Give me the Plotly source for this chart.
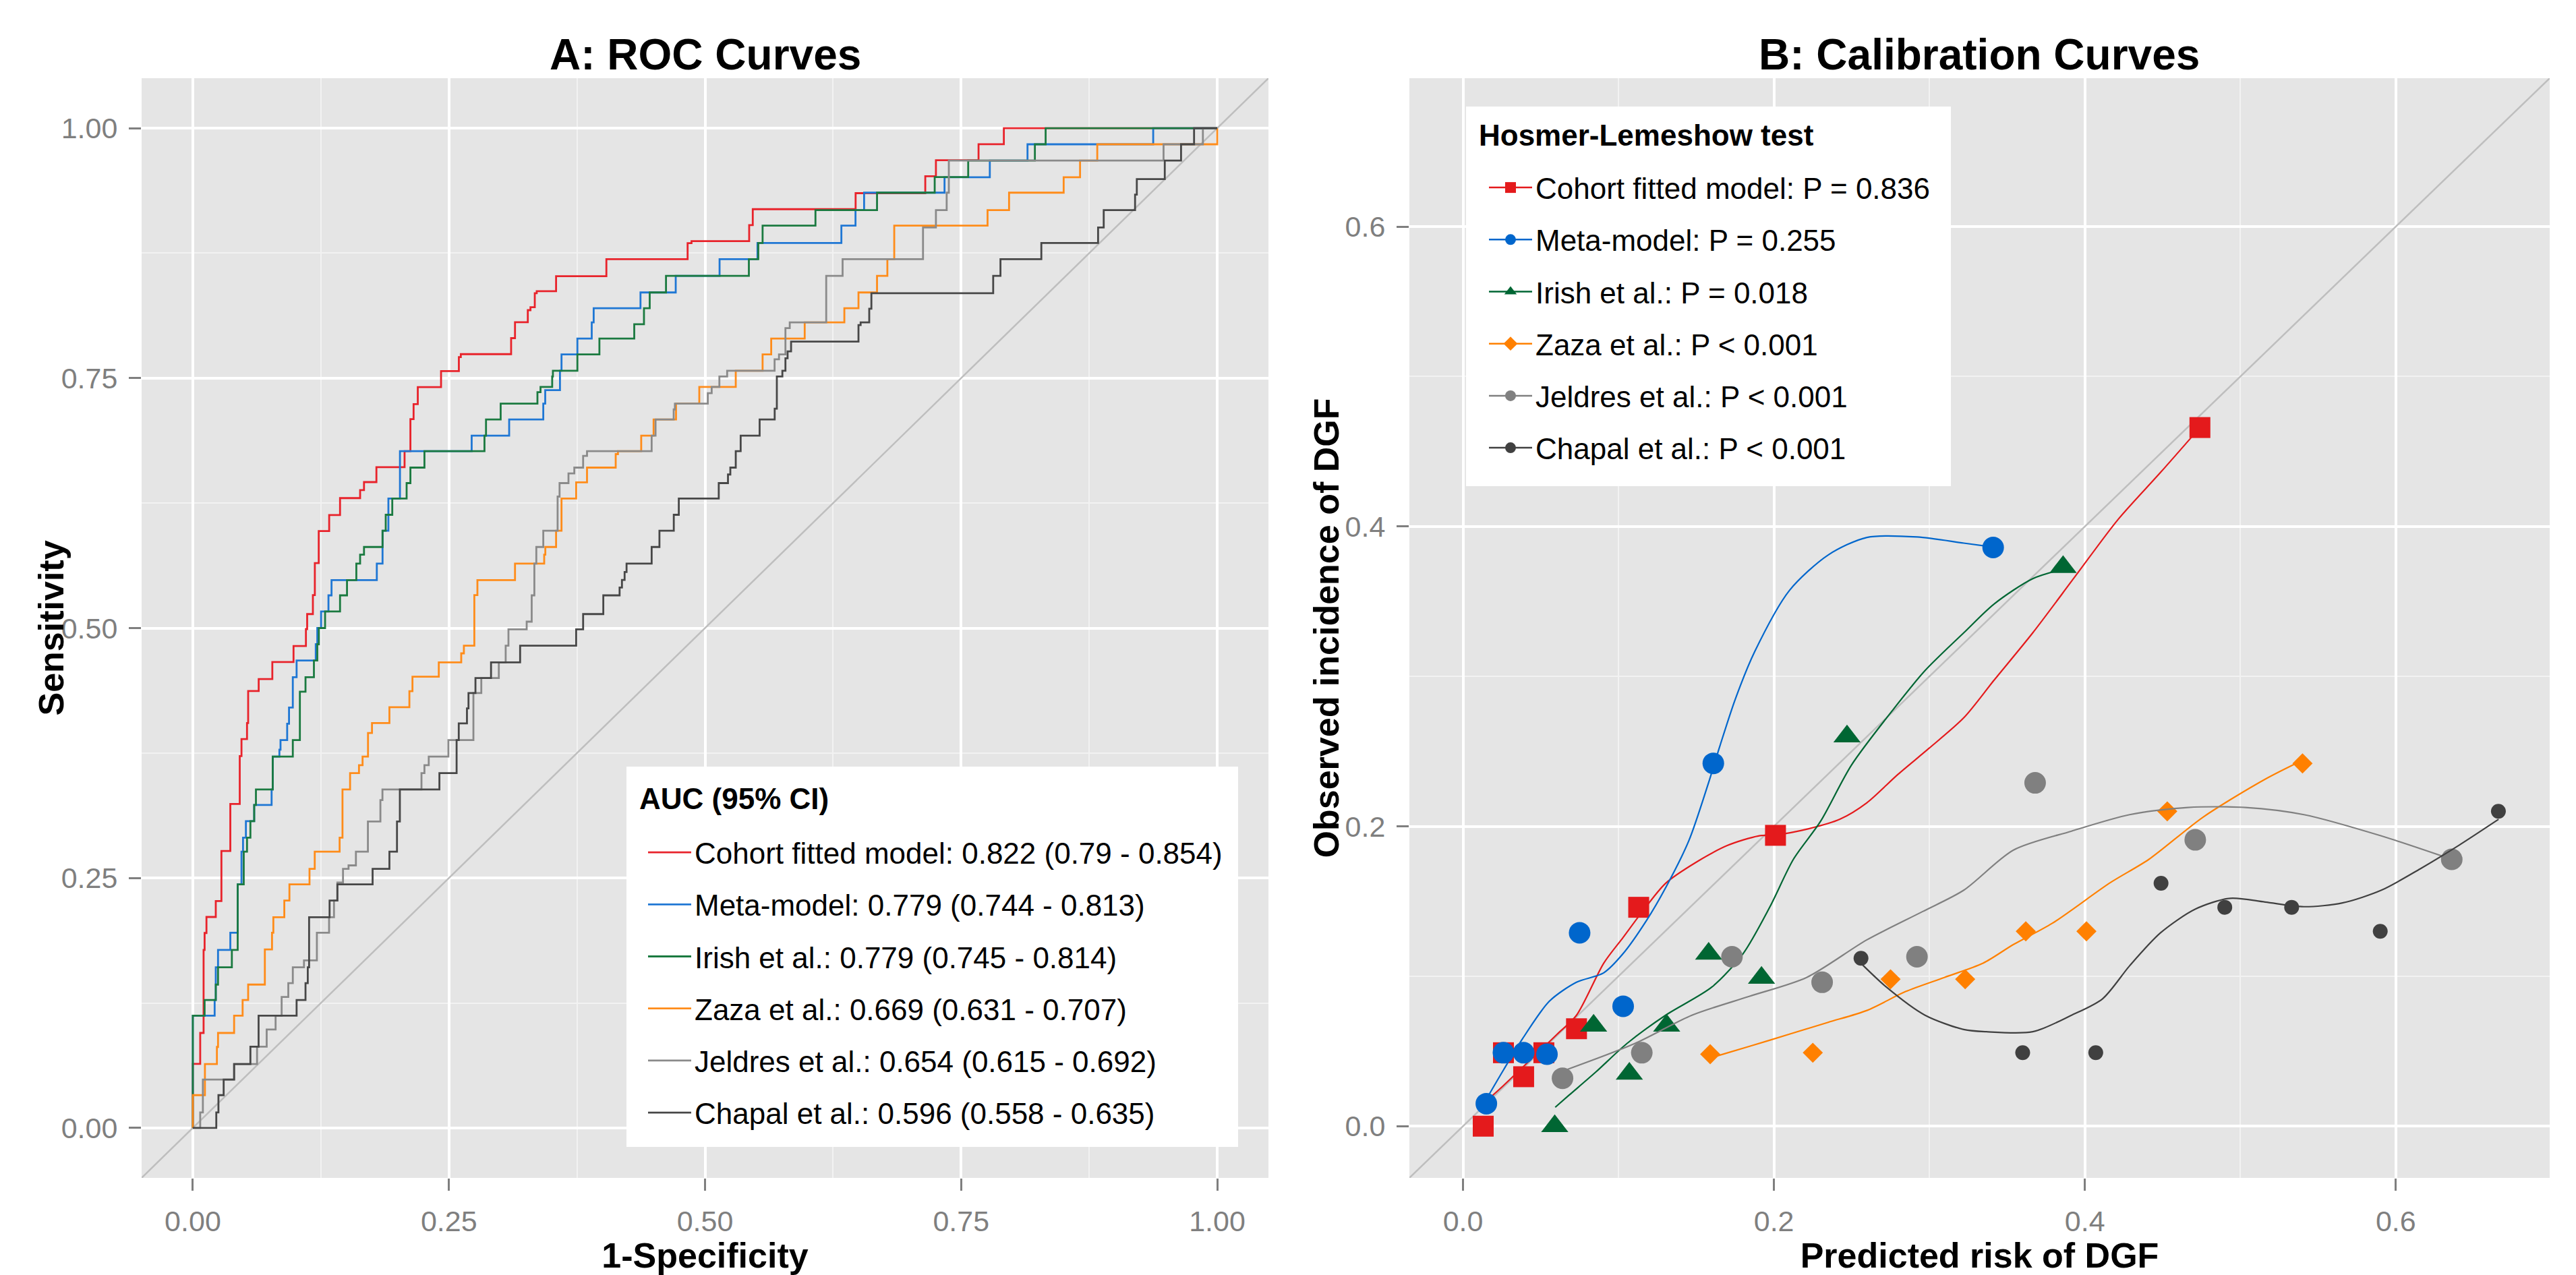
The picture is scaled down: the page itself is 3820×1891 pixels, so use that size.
import plotly.graph_objects as go

FONT = "Liberation Sans, Arial, Helvetica, sans-serif"

# ---------------- names / labels ----------------
model_names = ["Cohort fitted model", "Meta-model", "Irish et al.",
               "Zaza et al.", "Jeldres et al.", "Chapal et al."]
auc_text = ["0.822 (0.79 - 0.854)", "0.779 (0.744 - 0.813)", "0.779 (0.745 - 0.814)",
            "0.669 (0.631 - 0.707)", "0.654 (0.615 - 0.692)", "0.596 (0.558 - 0.635)"]
hl_text = ["P = 0.836", "P = 0.255", "P = 0.018", "P < 0.001", "P < 0.001", "P < 0.001"]

roc_colors = ["#E8232B", "#1F77D4", "#1B7A40", "#FF8C1A", "#8A8A8A", "#474747"]
cal_colors = ["#E41A1C", "#0066CC", "#006633", "#FF8000", "#808080", "#404040"]
cal_symbols = ["square", "circle", "triangle-up", "diamond", "circle", "circle"]
cal_sizes = [31, 32, 35, 23, 32, 22]

# ---------------- ROC curves: (1-specificity, sensitivity) step corners ----------------
roc_cohort = [(0, 0), (0, 0.064), (0.0072, 0.095), (0.0105, 0.178), (0.0115, 0.195), (0.0133, 0.211),
              (0.0224, 0.227), (0.0279, 0.277), (0.0366, 0.324), (0.0458, 0.372), (0.0475, 0.389),
              (0.0529, 0.405), (0.054, 0.437), (0.0643, 0.449), (0.0776, 0.466), (0.0983, 0.482),
              (0.1104, 0.499), (0.1116, 0.514), (0.1172, 0.533), (0.1191, 0.565), (0.1229, 0.597),
              (0.1331, 0.613), (0.1437, 0.630), (0.1633, 0.638), (0.1671, 0.646), (0.1792, 0.661),
              (0.2067, 0.677), (0.2124, 0.709), (0.2155, 0.724), (0.2196, 0.741), (0.2423, 0.757),
              (0.2597, 0.771), (0.2616, 0.774), (0.3107, 0.790), (0.3145, 0.806), (0.327, 0.818),
              (0.3296, 0.821), (0.3338, 0.835), (0.3357, 0.837), (0.3546, 0.852), (0.4037, 0.869),
              (0.483, 0.885), (0.4868, 0.887), (0.5431, 0.903), (0.5466, 0.919), (0.647, 0.935),
              (0.715, 0.952), (0.7254, 0.968), (0.767, 0.984), (0.7917, 1.0), (1.0, 1.0)]
roc_meta = [(0, 0), (0, 0.1123), (0.0213, 0.1279), (0.0224, 0.1607), (0.0246, 0.178), (0.0366, 0.1952),
            (0.0438, 0.2436), (0.0475, 0.2764), (0.049, 0.2903), (0.0518, 0.3068), (0.0599, 0.3231),
            (0.0769, 0.3386), (0.078, 0.3715), (0.0845, 0.3784), (0.0856, 0.388), (0.0921, 0.4043),
            (0.0939, 0.4205), (0.0976, 0.4509), (0.1013, 0.4675), (0.12, 0.4838), (0.1215, 0.5),
            (0.1252, 0.5166), (0.1324, 0.5327), (0.1354, 0.548), (0.1796, 0.5645), (0.1852, 0.5974),
            (0.1909, 0.6296), (0.2022, 0.677), (0.2722, 0.6924), (0.3088, 0.7086), (0.3421, 0.7245),
            (0.344, 0.738), (0.3584, 0.7574), (0.3599, 0.7737), (0.3754, 0.7896), (0.3894, 0.8058),
            (0.3913, 0.82), (0.437, 0.8357), (0.4714, 0.8523), (0.5142, 0.869), (0.5512, 0.8852),
            (0.6331, 0.9026), (0.6469, 0.918), (0.6553, 0.9355), (0.7338, 0.951), (0.778, 0.9677),
            (0.8148, 0.9839), (0.9375, 1.0), (1.0, 1.0)]
roc_irish = [(0, 0), (0, 0.1123), (0.0115, 0.1279), (0.0224, 0.1434), (0.0246, 0.1607), (0.0381, 0.178),
             (0.0438, 0.2436), (0.0497, 0.2764), (0.0529, 0.2903), (0.0562, 0.3068), (0.0599, 0.3231),
             (0.0616, 0.3386), (0.078, 0.3715), (0.0976, 0.388), (0.1045, 0.4364), (0.11, 0.4509),
             (0.1182, 0.4675), (0.1215, 0.4838), (0.123, 0.5), (0.1291, 0.5166), (0.1437, 0.5327),
             (0.1505, 0.548), (0.1596, 0.5645), (0.1633, 0.5734), (0.1671, 0.5811), (0.1852, 0.5974),
             (0.1883, 0.6133), (0.1947, 0.6296), (0.2087, 0.645), (0.2124, 0.6605), (0.2261, 0.677),
             (0.2847, 0.6924), (0.2862, 0.7086), (0.3005, 0.7245), (0.3364, 0.736), (0.3394, 0.7412),
             (0.3508, 0.7516), (0.3515, 0.7574), (0.3754, 0.7737), (0.3969, 0.7896), (0.4309, 0.8039),
             (0.4404, 0.82), (0.446, 0.8357), (0.4619, 0.8523), (0.5428, 0.869), (0.552, 0.8852),
             (0.5562, 0.9026), (0.6078, 0.918), (0.6679, 0.9355), (0.7242, 0.9511), (0.7569, 0.9677),
             (0.822, 0.9839), (0.8325, 1.0), (1.0, 1.0)]
roc_zaza = [(0, 0), (0, 0.0328), (0.0118, 0.0639), (0.0235, 0.081), (0.0246, 0.095), (0.0403, 0.1123),
            (0.0486, 0.1279), (0.054, 0.1434), (0.0703, 0.1786), (0.0773, 0.1952), (0.0786, 0.2108),
            (0.0893, 0.2274), (0.0943, 0.2436), (0.1139, 0.2592), (0.119, 0.2764), (0.1433, 0.2903),
            (0.1461, 0.3386), (0.1535, 0.3549), (0.1622, 0.3628), (0.1657, 0.3715), (0.171, 0.395),
            (0.1749, 0.405), (0.1919, 0.4209), (0.2114, 0.4368), (0.2144, 0.4513), (0.2401, 0.4657),
            (0.262, 0.4747), (0.2646, 0.4824), (0.2748, 0.533), (0.2778, 0.548), (0.3145, 0.5645),
            (0.343, 0.5734), (0.3441, 0.5811), (0.3546, 0.5974), (0.3599, 0.6296), (0.3742, 0.6458),
            (0.3848, 0.6605), (0.4128, 0.674), (0.415, 0.677), (0.4377, 0.6924), (0.4498, 0.7086),
            (0.4717, 0.7245), (0.4944, 0.7412), (0.53, 0.7574), (0.5562, 0.7737), (0.5646, 0.7896),
            (0.5973, 0.8058), (0.636, 0.82), (0.6498, 0.8357), (0.6679, 0.8523), (0.678, 0.869),
            (0.6847, 0.9026), (0.7758, 0.918), (0.7968, 0.9355), (0.8501, 0.951), (0.8661, 0.9677),
            (0.8829, 0.9839), (1.0, 1.0)]
roc_jeldres = [(0, 0), (0.0072, 0.0155), (0.0098, 0.0484), (0.0403, 0.0639), (0.0627, 0.0812),
               (0.0721, 0.0985), (0.0808, 0.1123), (0.0867, 0.131), (0.0932, 0.1448), (0.0976, 0.1607),
               (0.1085, 0.1676), (0.1211, 0.1952), (0.133, 0.2108), (0.1378, 0.2274), (0.1411, 0.2454),
               (0.1466, 0.2592), (0.152, 0.2626), (0.1592, 0.2764), (0.1709, 0.3065), (0.1831, 0.3279),
               (0.1851, 0.3386), (0.2232, 0.3549), (0.2261, 0.3628), (0.2303, 0.3715), (0.2495, 0.388),
               (0.2739, 0.435), (0.2816, 0.45), (0.2987, 0.4657), (0.3054, 0.4824), (0.3081, 0.4987),
               (0.3259, 0.5064), (0.3308, 0.5327), (0.3334, 0.5645), (0.3353, 0.5811), (0.3421, 0.5974),
               (0.3561, 0.6315), (0.358, 0.645), (0.3667, 0.6547), (0.3724, 0.6605), (0.381, 0.6722),
               (0.3848, 0.677), (0.4479, 0.6924), (0.4517, 0.7086), (0.4694, 0.7187), (0.4706, 0.7245),
               (0.5027, 0.735), (0.5065, 0.7412), (0.514, 0.7516), (0.5216, 0.7574), (0.5679, 0.7689),
               (0.5722, 0.7737), (0.5785, 0.80), (0.5827, 0.8058), (0.6183, 0.8523), (0.6343, 0.869),
               (0.7128, 0.9007), (0.7254, 0.918), (0.7359, 0.9355), (0.738, 0.9677), (0.9476, 0.9839),
               (0.986, 1.0), (1.0, 1.0)]
roc_chapal = [(0, 0), (0.0229, 0.0155), (0.025, 0.0328), (0.0301, 0.0484), (0.0403, 0.0639),
              (0.0562, 0.0812), (0.0642, 0.1123), (0.1013, 0.1279), (0.11, 0.1448), (0.1122, 0.1607),
              (0.1135, 0.2108), (0.1335, 0.2274), (0.1411, 0.2436), (0.1755, 0.2592), (0.1919, 0.2764),
              (0.1993, 0.3065), (0.2021, 0.3386), (0.2407, 0.3549), (0.2575, 0.388), (0.2596, 0.4046),
              (0.2676, 0.4196), (0.2691, 0.435), (0.2759, 0.45), (0.2911, 0.4657), (0.3195, 0.4824),
              (0.3742, 0.4987), (0.381, 0.514), (0.4007, 0.5327), (0.4166, 0.5405), (0.4189, 0.5482),
              (0.4215, 0.556), (0.4234, 0.5645), (0.4479, 0.5811), (0.4555, 0.5974), (0.4695, 0.6133),
              (0.4744, 0.6296), (0.5134, 0.645), (0.5224, 0.6536), (0.5247, 0.6605), (0.53, 0.677),
              (0.5348, 0.6924), (0.5533, 0.7086), (0.568, 0.7194), (0.5701, 0.7516), (0.5755, 0.7574),
              (0.5785, 0.7698), (0.5806, 0.7768), (0.584, 0.7865), (0.6498, 0.8031), (0.6519, 0.8058),
              (0.6603, 0.8194), (0.6624, 0.8349), (0.7813, 0.8523), (0.7884, 0.869), (0.8283, 0.8852),
              (0.8837, 0.9007), (0.8892, 0.918), (0.9198, 0.9336), (0.9215, 0.9491), (0.9488, 0.9677),
              (0.9647, 0.9839), (0.9774, 1.0), (1.0, 1.0)]
roc_curves = [roc_cohort, roc_meta, roc_irish, roc_zaza, roc_jeldres, roc_chapal]

# ---------------- calibration: grouped points (predicted, observed) ----------------
cal_cohort_pred = [0.013, 0.026, 0.039, 0.052, 0.073, 0.113, 0.201, 0.474]
cal_cohort_obs = [0.000, 0.049, 0.033, 0.049, 0.065, 0.146, 0.194, 0.466]
cal_meta_pred = [0.015, 0.026, 0.039, 0.054, 0.075, 0.103, 0.161, 0.341]
cal_meta_obs = [0.015, 0.049, 0.049, 0.048, 0.129, 0.080, 0.242, 0.386]
cal_irish_pred = [0.059, 0.084, 0.107, 0.131, 0.158, 0.192, 0.247, 0.386]
cal_irish_obs = [0.000, 0.067, 0.035, 0.067, 0.115, 0.099, 0.260, 0.373]
cal_zaza_pred = [0.159, 0.225, 0.275, 0.323, 0.362, 0.401, 0.453, 0.540]
cal_zaza_obs = [0.048, 0.049, 0.098, 0.098, 0.130, 0.130, 0.210, 0.242]
cal_jeldres_pred = [0.064, 0.115, 0.173, 0.231, 0.292, 0.368, 0.471, 0.636]
cal_jeldres_obs = [0.032, 0.049, 0.113, 0.096, 0.113, 0.229, 0.191, 0.178]
cal_chapal_pred = [0.256, 0.360, 0.407, 0.449, 0.490, 0.533, 0.590, 0.666]
cal_chapal_obs = [0.112, 0.049, 0.049, 0.162, 0.146, 0.146, 0.130, 0.210]
cal_pred = [cal_cohort_pred, cal_meta_pred, cal_irish_pred, cal_zaza_pred, cal_jeldres_pred, cal_chapal_pred]
cal_obs = [cal_cohort_obs, cal_meta_obs, cal_irish_obs, cal_zaza_obs, cal_jeldres_obs, cal_chapal_obs]

# ---------------- calibration: smoothed curves (predicted, observed) ----------------
smooth_cohort = [(0.0127, 0.0147), (0.0257, 0.0268), (0.0432, 0.0441), (0.0606, 0.0614), (0.073, 0.074),
                 (0.0905, 0.1087), (0.1029, 0.1258), (0.1154, 0.1432), (0.1303, 0.162), (0.1502, 0.1762),
                 (0.1702, 0.1873), (0.19, 0.1936), (0.2008, 0.1942), (0.2224, 0.1984), (0.2424, 0.2047),
                 (0.2598, 0.2157), (0.2797, 0.2346), (0.2997, 0.252), (0.3221, 0.2724), (0.3416, 0.2975),
                 (0.3665, 0.3291), (0.3939, 0.3669), (0.4213, 0.4046), (0.4487, 0.4361), (0.474, 0.466)]
smooth_meta = [(0.0146, 0.0173), (0.0262, 0.0378), (0.0382, 0.0582), (0.0556, 0.0834), (0.073, 0.096),
               (0.0905, 0.1023), (0.1029, 0.115), (0.1179, 0.137), (0.1303, 0.159), (0.1453, 0.1905),
               (0.1577, 0.2283), (0.1652, 0.2535), (0.1752, 0.285), (0.1876, 0.3165), (0.21, 0.3574),
               (0.2349, 0.381), (0.2598, 0.3927), (0.2922, 0.393), (0.3221, 0.3889), (0.341, 0.3863)]
smooth_irish = [(0.0593, 0.0126), (0.068, 0.0205), (0.0855, 0.0362), (0.1054, 0.0551), (0.1303, 0.074),
                (0.1602, 0.0929), (0.1801, 0.115), (0.1975, 0.1465), (0.2125, 0.178), (0.2299, 0.2032),
                (0.2499, 0.2409), (0.2773, 0.2787), (0.2972, 0.3039), (0.3221, 0.3291), (0.3416, 0.3483),
                (0.3665, 0.3652), (0.3864, 0.3716)]
smooth_zaza = [(0.1594, 0.0456), (0.1851, 0.0535), (0.21, 0.0614), (0.2349, 0.0693), (0.2598, 0.0772),
               (0.2847, 0.0898), (0.3096, 0.0992), (0.3345, 0.1087), (0.3541, 0.1212), (0.379, 0.1353),
               (0.4163, 0.1624), (0.4412, 0.178), (0.4761, 0.2062), (0.5159, 0.2314), (0.5401, 0.2441)]
smooth_jeldres = [(0.0643, 0.0368), (0.1104, 0.0551), (0.1472, 0.074), (0.1841, 0.0866), (0.221, 0.0992),
                  (0.2598, 0.1243), (0.2957, 0.1432), (0.3221, 0.1574), (0.3541, 0.1842), (0.3914, 0.1968),
                  (0.4288, 0.2078), (0.4662, 0.2126), (0.5035, 0.2126), (0.5409, 0.2078), (0.5907, 0.1936),
                  (0.6362, 0.1779)]
smooth_chapal = [(0.2523, 0.1124), (0.2723, 0.0928), (0.2972, 0.074), (0.3221, 0.0645), (0.3366, 0.063),
                 (0.3665, 0.063), (0.3914, 0.074), (0.4114, 0.085), (0.4288, 0.107), (0.4487, 0.129),
                 (0.4711, 0.1448), (0.4934, 0.152), (0.5159, 0.1495), (0.5408, 0.1464), (0.5657, 0.1489),
                 (0.5907, 0.1574), (0.6156, 0.1716), (0.6405, 0.1873), (0.6661, 0.2047)]
smooth_curves = [smooth_cohort, smooth_meta, smooth_irish, smooth_zaza, smooth_jeldres, smooth_chapal]

# ---------------- axes ----------------
roc_range = [-0.05, 1.05]
roc_ticks = [0, 0.25, 0.5, 0.75, 1.0]
cal_range = [-0.0345, 0.699]
cal_ticks = [0, 0.2, 0.4, 0.6]

W, H = 3820, 1891


def px_x(p):
    return p / W


def px_y(p):
    return 1 - p / H


domA_x = [px_x(210), px_x(1881)]
domB_x = [px_x(2090), px_x(3781)]
dom_y = [px_y(1747), px_y(116)]

fig = go.Figure()

# Panel A
fig.add_trace(go.Scatter(x=roc_range, y=roc_range, mode="lines",
                         line=dict(color="#BEBEBE", width=2.5), showlegend=False,
                         hoverinfo="skip", xaxis="x", yaxis="y"))
for i, pts in enumerate(roc_curves):
    fig.add_trace(go.Scatter(
        x=[p[0] for p in pts], y=[p[1] for p in pts], mode="lines",
        line=dict(color=roc_colors[i], width=2.8, shape="hv"),
        name=f"{model_names[i]}: {auc_text[i]}", legend="legend",
        legendgroup=f"roc{i}", xaxis="x", yaxis="y"))

# Panel B
fig.add_trace(go.Scatter(x=cal_range, y=cal_range, mode="lines",
                         line=dict(color="#BEBEBE", width=2.5), showlegend=False,
                         hoverinfo="skip", xaxis="x2", yaxis="y2"))
for i in range(len(model_names)):
    sm = smooth_curves[i]
    fig.add_trace(go.Scatter(
        x=[p[0] for p in sm], y=[p[1] for p in sm], mode="lines",
        line=dict(color=cal_colors[i], width=2.2, shape="spline", smoothing=0.8),
        showlegend=False, hoverinfo="skip", xaxis="x2", yaxis="y2"))
    fig.add_trace(go.Scatter(
        x=cal_pred[i], y=cal_obs[i], mode="markers",
        marker=dict(symbol=cal_symbols[i], size=cal_sizes[i], color=cal_colors[i], line=dict(width=0)),
        showlegend=False, xaxis="x2", yaxis="y2"))
for i in range(len(model_names)):
    fig.add_trace(go.Scatter(
        x=[None], y=[None], mode="lines+markers",
        line=dict(color=cal_colors[i], width=2.5),
        marker=dict(symbol=cal_symbols[i], size=cal_sizes[i], color=cal_colors[i]),
        name=f"{model_names[i]}: {hl_text[i]}", legend="legend2",
        legendgroup=f"cal{i}", xaxis="x2", yaxis="y2"))

tick_font = dict(family=FONT, size=43, color="#7F7F7F")
title_font = dict(family=FONT, size=52, color="black")
legend_font = dict(family=FONT, size=44, color="black")
common_axis = dict(
    showgrid=True, gridcolor="white", gridwidth=3.5,
    zeroline=False, showline=False,
    ticks="outside", ticklen=18, tickwidth=3, tickcolor="#7F7F7F",
    tickfont=tick_font, ticklabelstandoff=8,
)

fig.update_layout(
    width=W, height=H, autosize=False,
    margin=dict(l=0, r=0, t=0, b=0),
    paper_bgcolor="white", plot_bgcolor="#E5E5E5",
    font=dict(family=FONT, color="black"),
    xaxis=dict(domain=domA_x, range=roc_range, anchor="y", tickvals=roc_ticks, tickformat=".2f",
               minor=dict(dtick=0.125, tick0=0, showgrid=True, gridcolor="#F2F2F2", gridwidth=1.8),
               title=dict(text="<b>1-Specificity</b>", font=title_font, standoff=14),
               **common_axis),
    yaxis=dict(domain=dom_y, range=roc_range, anchor="x", tickvals=roc_ticks, tickformat=".2f",
               minor=dict(dtick=0.125, tick0=0, showgrid=True, gridcolor="#F2F2F2", gridwidth=1.8),
               **common_axis),
    xaxis2=dict(domain=domB_x, range=cal_range, anchor="y2", tickvals=cal_ticks, tickformat=".1f",
                minor=dict(dtick=0.1, tick0=0, showgrid=True, gridcolor="#F2F2F2", gridwidth=1.8),
                title=dict(text="<b>Predicted risk of DGF</b>", font=title_font, standoff=14),
                **common_axis),
    yaxis2=dict(domain=dom_y, range=cal_range, anchor="x2", tickvals=cal_ticks, tickformat=".1f",
                minor=dict(dtick=0.1, tick0=0, showgrid=True, gridcolor="#F2F2F2", gridwidth=1.8),
                **common_axis),
    legend=dict(x=px_x(956), y=px_y(1229), xanchor="left", yanchor="top",
                bgcolor="rgba(0,0,0,0)", borderwidth=0, itemwidth=64,
                font=legend_font, tracegroupgap=17, traceorder="grouped"),
    legend2=dict(x=px_x(2203), y=px_y(243), xanchor="left", yanchor="top",
                 bgcolor="rgba(0,0,0,0)", borderwidth=0, itemwidth=64,
                 font=legend_font, tracegroupgap=17, traceorder="grouped"),
    shapes=[
        dict(type="rect", xref="paper", yref="paper", layer="above",
             x0=px_x(929), x1=px_x(1836), y0=px_y(1701), y1=px_y(1137),
             fillcolor="white", line=dict(width=0)),
        dict(type="rect", xref="paper", yref="paper", layer="above",
             x0=px_x(2174), x1=px_x(2893), y0=px_y(721), y1=px_y(158),
             fillcolor="white", line=dict(width=0)),
    ],
    annotations=[
        dict(text="<b>A: ROC Curves</b>", x=(domA_x[0] + domA_x[1]) / 2, y=px_y(81),
             xref="paper", yref="paper", showarrow=False, xanchor="center", yanchor="middle",
             font=dict(family=FONT, size=64, color="black")),
        dict(text="<b>B: Calibration Curves</b>", x=(domB_x[0] + domB_x[1]) / 2, y=px_y(81),
             xref="paper", yref="paper", showarrow=False, xanchor="center", yanchor="middle",
             font=dict(family=FONT, size=64, color="black")),
        dict(text="<b>Sensitivity</b>", x=px_x(75), y=(dom_y[0] + dom_y[1]) / 2, textangle=-90,
             xref="paper", yref="paper", showarrow=False, xanchor="center", yanchor="middle",
             font=title_font),
        dict(text="<b>Observed incidence of DGF</b>", x=px_x(1966), y=(dom_y[0] + dom_y[1]) / 2,
             textangle=-90, xref="paper", yref="paper", showarrow=False,
             xanchor="center", yanchor="middle", font=title_font),
        dict(text="<b>AUC (95% CI)</b>", x=px_x(946), y=px_y(1184),
             xref="paper", yref="paper", showarrow=False, xanchor="left", yanchor="middle",
             font=legend_font),
        dict(text="<b>Hosmer-Lemeshow test</b>", x=px_x(2191), y=px_y(201),
             xref="paper", yref="paper", showarrow=False, xanchor="left", yanchor="middle",
             font=legend_font),
    ],
)

fig.write_html("out.html", config={"displayModeBar": False},
               post_script="document.body.style.margin='0';document.body.style.overflow='hidden';")
